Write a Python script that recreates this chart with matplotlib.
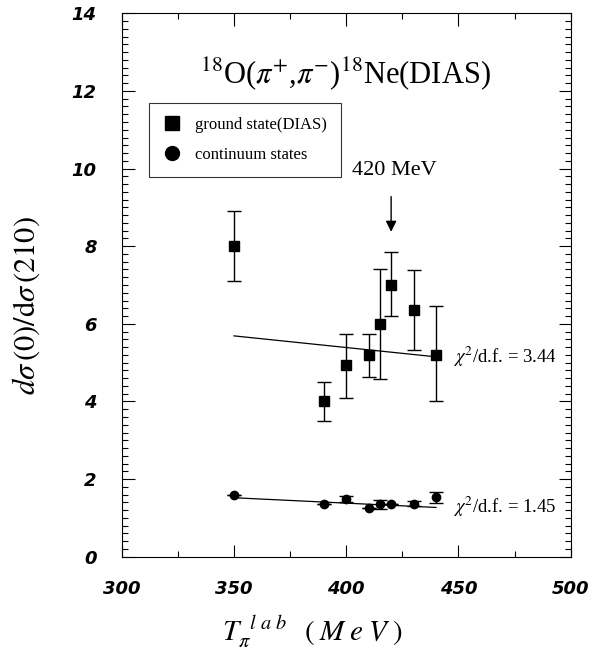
import numpy as np
import matplotlib
matplotlib.use("Agg")
import matplotlib.pyplot as plt
from matplotlib.ticker import MultipleLocator
from matplotlib.lines import Line2D

plt.rcParams['mathtext.fontset'] = 'stix'
plt.rcParams['font.family'] = ['Liberation Serif', 'DejaVu Serif']

# ground state (DIAS)
gs_T = [350, 390, 400, 410, 415, 420, 430, 440]
gs_r = [8.0, 4.0, 4.95, 5.2, 6.0, 7.0, 6.35, 5.2]
gs_lo = [7.1, 3.5, 4.1, 4.64, 4.58, 6.2, 5.32, 4.0]
gs_hi = [8.9, 4.5, 5.75, 5.74, 7.4, 7.85, 7.38, 6.45]

# continuum states
cs_T = [350, 390, 400, 410, 415, 420, 430, 440]
cs_r = [1.6, 1.35, 1.48, 1.25, 1.35, 1.37, 1.37, 1.53]
cs_err = [0.0, 0.0, 0.08, 0.0, 0.12, 0.0, 0.06, 0.14]

# straight line fits (end points)
fit_T = [350, 440]
fit_gs = [5.69, 5.15]
fit_cs = [1.52, 1.27]

chi_gs = 3.44
chi_cs = 1.45

fig = plt.figure(figsize=(5.99, 6.55), dpi=100)
ax = fig.add_axes([0.2032, 0.150, 0.7496, 0.8297])

gs_T = np.array(gs_T)
gs_r = np.array(gs_r)
yerr = [gs_r - np.array(gs_lo), np.array(gs_hi) - gs_r]
ax.errorbar(gs_T, gs_r, yerr=yerr, fmt='s', color='black', ms=6.5,
            capsize=5, elinewidth=1, capthick=1)
ax.errorbar(cs_T, cs_r, yerr=cs_err, fmt='o', color='black', ms=6,
            capsize=5, elinewidth=1, capthick=1)
ax.plot(fit_T, fit_gs, color='black', lw=0.9)
ax.plot(fit_T, fit_cs, color='black', lw=0.9)

ax.set_xlim(300, 500)
ax.set_ylim(0, 14)
ax.xaxis.set_major_locator(MultipleLocator(50))
ax.xaxis.set_minor_locator(MultipleLocator(25))
ax.yaxis.set_major_locator(MultipleLocator(2))
ax.yaxis.set_minor_locator(MultipleLocator(0.2))
ax.tick_params(which='both', direction='in', top=True, right=True, width=0.8)
ax.tick_params(which='major', length=9)
ax.tick_params(which='minor', length=4.5)
ax.tick_params(axis='x', pad=17)
ax.tick_params(axis='y', pad=18)
for lab in ax.get_xticklabels() + ax.get_yticklabels():
    lab.set_fontsize(13)
    lab.set_fontweight('bold')
    lab.set_fontstyle('italic')
    lab.set_family('DejaVu Sans')

ax.set_xlabel(r'$T_{\pi}^{\;\;l\,\,a\,\,b}\;\;\;(\;M\;e\;V\;)$', fontsize=21)
ax.xaxis.set_label_coords(0.425, -0.105)
ax.set_ylabel(r'$d\sigma\,(0)/\mathrm{d}\sigma\,(210)$', fontsize=22)
ax.yaxis.set_label_coords(-0.178, 0.463)

ax.text(399.5, 12.45, r'$^{18}$O($\pi^{+}$,$\pi^{-}$)$^{18}$Ne(DIAS)', fontsize=22,
        ha='center', va='center')

ax.annotate('', xy=(420, 8.3), xytext=(420, 9.35),
            arrowprops=dict(arrowstyle='-|>', color='black', lw=1, mutation_scale=16))
ax.text(421.5, 9.95, '420 MeV', fontsize=16, ha='center', va='center')

ax.text(447.5, 5.15, r'$\chi^2$/d.f. = %.2f' % chi_gs, fontsize=13.5,
        ha='left', va='center')
ax.text(447.5, 1.28, r'$\chi^2$/d.f. = %.2f' % chi_cs, fontsize=13.5,
        ha='left', va='center')

handles = [Line2D([], [], ls='none', marker='s', color='black', ms=10),
           Line2D([], [], ls='none', marker='o', color='black', ms=10)]
leg = ax.legend(handles, ['ground state(DIAS)', 'continuum states'],
                loc='upper left', bbox_to_anchor=(0.061, 0.835), frameon=True,
                fancybox=False, edgecolor='black', prop={'size': 12},
                handletextpad=0.9, borderpad=0.85, labelspacing=0.85,
                handlelength=1.0, borderaxespad=0)
leg.get_frame().set_linewidth(0.8)

plt.savefig('out.png', dpi=100)
